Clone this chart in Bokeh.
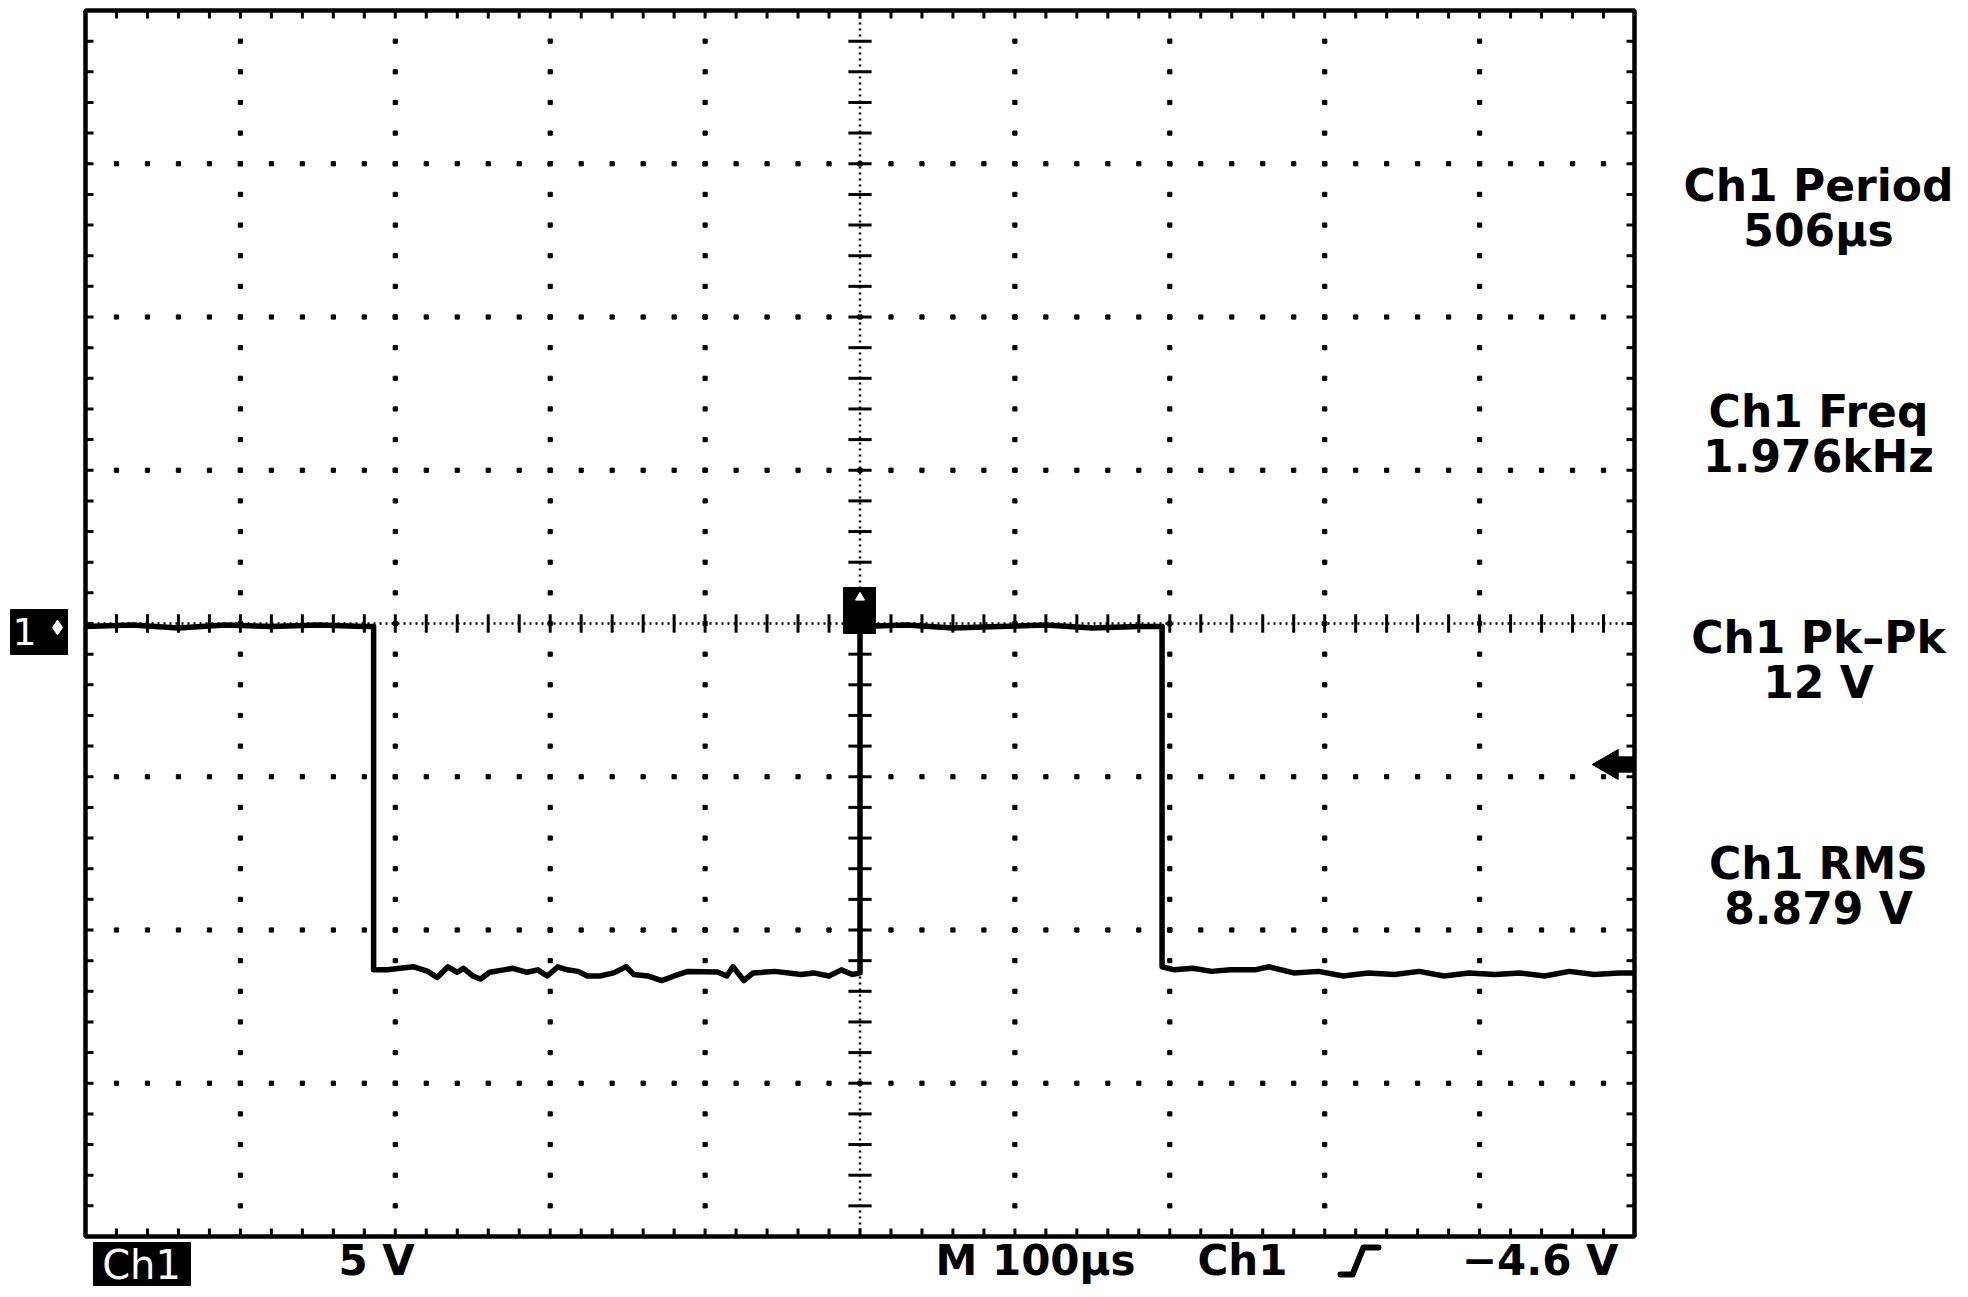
import numpy as np
from bokeh.plotting import figure
from bokeh.models import ColumnDataSource, Range1d
from bokeh.core.properties import value
from bokeh.embed import file_html
from bokeh.resources import INLINE

# ---------------- data ----------------
# time in microseconds (100 us/div, trigger at centre), voltage in volts (5 V/div)
trace_t_us = [-500, -470, -440, -410, -380, -350, -320, -314,
              -314, -305, -297, -288, -279, -273, -266, -260, -256, -250, -245,
              -239, -230, -224, -215, -208, -202, -195, -189, -182, -176, -168,
              -159, -151, -146, -137, -128, -120, -111, -92, -86, -82, -75, -69,
              -55, -38, -30, -20, -12, -5, 0,
              0, 30, 60, 90, 120, 150, 180, 195,
              195, 203, 215, 227, 239, 255, 264, 280, 296, 312, 328, 345, 361,
              377, 393, 410, 426, 442, 458, 474, 490, 500]
trace_v = [-0.10, -0.05, -0.15, -0.05, -0.10, -0.05, -0.10, -0.10,
           -11.30, -11.30, -11.25, -11.20, -11.35, -11.55, -11.20, -11.38, -11.25, -11.50, -11.60,
           -11.38, -11.30, -11.25, -11.38, -11.30, -11.50, -11.20, -11.30, -11.35, -11.50, -11.50,
           -11.40, -11.20, -11.45, -11.50, -11.65, -11.50, -11.35, -11.37, -11.50, -11.20, -11.65, -11.40,
           -11.35, -11.45, -11.40, -11.50, -11.30, -11.45, -11.40,
           -0.10, -0.05, -0.15, -0.10, -0.05, -0.15, -0.10, -0.10,
           -11.20, -11.30, -11.25, -11.35, -11.30, -11.30, -11.20, -11.40, -11.35, -11.50, -11.40,
           -11.45, -11.35, -11.50, -11.40, -11.45, -11.40, -11.50, -11.35, -11.45, -11.40, -11.40]

meas_names = ["Ch1 Period", "Ch1 Freq", "Ch1 Pk–Pk", "Ch1 RMS"]
meas_values = ["506µs", "1.976kHz", "12 V", "8.879 V"]
channel_label = "Ch1"
volts_per_div = "5 V"
timebase_label = "M 100µs"
trig_source = "Ch1"
trig_level_v = -4.6
trig_level_label = "−4.6 V"

# ---------------- page geometry helpers ----------------
W, H = 1962, 1292
PX_PER_US = 1.549
PX_PER_V = 30.65


def tx(px):  # page x pixel -> time
    return (px - 85) / PX_PER_US - 500


def vy(py):  # page y pixel -> volts
    return 20 - (py - 10) / PX_PER_V


p = figure(width=W, height=H, output_backend="svg", toolbar_location=None,
           x_range=Range1d(tx(0), tx(W)), y_range=Range1d(vy(H), vy(0)),
           x_axis_location=None, y_axis_location=None, min_border=0)
p.outline_line_color = None
p.background_fill_color = "white"
p.border_fill_color = "white"
p.grid.grid_line_color = None
p.grid.visible = False

maj_t = np.arange(-500, 501, 100)
min_t = np.arange(-500, 501, 20)
maj_v = np.arange(-20, 21, 5)
min_v = np.arange(-20, 21, 1)

# graticule dots
dx, dy = [], []
for t in maj_t[1:-1]:
    if t == 0:
        continue
    for v in min_v[1:-1]:
        dx.append(t); dy.append(v)
for v in maj_v[1:-1]:
    if v == 0:
        continue
    for t in min_t[1:-1]:
        dx.append(t); dy.append(v)
p.scatter(dx, dy, marker="square", size=4.2, color="black")

# centre cross: fine dotted lines plus ticks
p.line([-500, 500], [0, 0], line_color="black", line_width=2.5, line_dash="2 4")
p.line([0, 0], [-20, 20], line_color="black", line_width=2.5, line_dash="2 4")
ct = min_t[1:-1]
p.segment(x0=ct, y0=np.full(len(ct), -0.3), x1=ct, y1=np.full(len(ct), 0.3),
          line_color="black", line_width=3)
cv = min_v[1:-1]
p.segment(x0=np.full(len(cv), -7.5), y0=cv, x1=np.full(len(cv), 7.5), y1=cv,
          line_color="black", line_width=3)

# border with inward ticks
tl = 8 / PX_PER_V
xl = 8 / PX_PER_US
bt = min_t[1:-1]
bv = min_v[1:-1]
p.segment(x0=bt, y0=np.full(len(bt), -20.0), x1=bt, y1=np.full(len(bt), -20 + tl),
          line_color="black", line_width=3)
p.segment(x0=bt, y0=np.full(len(bt), 20.0), x1=bt, y1=np.full(len(bt), 20 - tl),
          line_color="black", line_width=3)
p.segment(x0=np.full(len(bv), -500.0), y0=bv, x1=np.full(len(bv), -500 + xl), y1=bv,
          line_color="black", line_width=3)
p.segment(x0=np.full(len(bv), 500.0), y0=bv, x1=np.full(len(bv), 500 - xl), y1=bv,
          line_color="black", line_width=3)
p.quad(left=[-500], right=[500], bottom=[-20], top=[20], fill_color=None,
       line_color="black", line_width=4.5)

# signal trace
src = ColumnDataSource(dict(t=trace_t_us, v=trace_v))
p.line("t", "v", source=src, line_color="black", line_width=5.5, line_join="round")

# trigger position marker on the trace
p.quad(left=[tx(843)], right=[tx(875)], bottom=[vy(633)], top=[vy(587)],
       fill_color="black", line_color="black")
p.scatter([0], [vy(597)], marker="triangle", size=9, color="white")

# trigger level arrow on right border
p.scatter([tx(1609)], [trig_level_v], marker="triangle", angle=np.pi / 2, size=30,
          color="black")
p.quad(left=[tx(1612)], right=[500], bottom=[trig_level_v - 0.25], top=[trig_level_v + 0.25],
       fill_color="black", line_color="black")

font = value("DejaVu Sans")

# ground marker at left
p.quad(left=[tx(10)], right=[tx(67)], bottom=[vy(654)], top=[vy(609)],
       fill_color="black", line_color="black")
p.text([tx(24)], [vy(631)], text=["1"], text_color="white", text_font=font,
       text_font_size="38px", text_align="center", text_baseline="alphabetic")
p.scatter([tx(57)], [vy(627)], marker="diamond", size=15, color="white")

# measurement readouts
mx = tx(1818)
base1 = [vy(185 + i * 226) for i in range(4)]
base2 = [vy(230 + i * 226) for i in range(4)]
p.text([mx] * 4, base1, text=meas_names, text_font=font, text_font_size="44px",
       text_font_style="bold", text_align="center", text_baseline="alphabetic",
       text_color="black")
p.text([mx] * 4, base2, text=meas_values, text_font=font, text_font_size="44px",
       text_font_style="bold", text_align="center", text_baseline="alphabetic",
       text_color="black")

# bottom status line
by = vy(1260)
p.quad(left=[tx(93)], right=[tx(190)], bottom=[vy(1285)], top=[vy(1242)],
       fill_color="black", line_color="black")
p.text([tx(141)], [vy(1264)], text=[channel_label], text_color="white", text_font=font,
       text_font_size="40px", text_align="center", text_baseline="alphabetic")
p.text([tx(338), tx(935), tx(1197)], [by] * 3,
       text=[volts_per_div, timebase_label, trig_source],
       text_font=font, text_font_size="42px", text_font_style="bold",
       text_baseline="alphabetic", text_color="black")
p.text([tx(1618)], [by], text=[trig_level_label], text_font=font, text_font_size="42px",
       text_font_style="bold", text_align="right", text_baseline="alphabetic",
       text_color="black")
# rising-edge trigger slope symbol
p.line([tx(1340), tx(1352), tx(1363), tx(1378)],
       [vy(1274), vy(1274), vy(1247), vy(1247)],
       line_color="black", line_width=6, line_join="round", line_cap="round")

open("out.html", "w").write(file_html(p, INLINE))
